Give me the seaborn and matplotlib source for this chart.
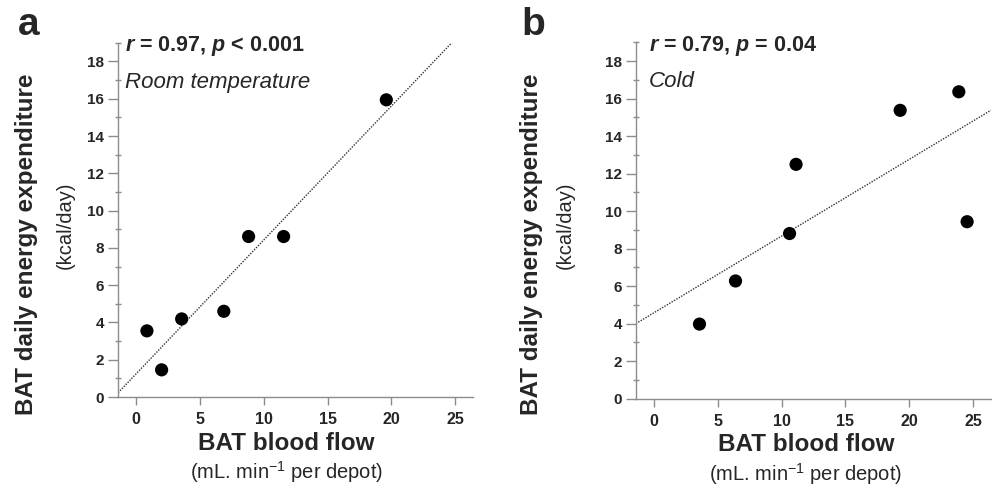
import matplotlib
matplotlib.use("Agg")
import numpy as np
import pandas as pd
import matplotlib.pyplot as plt
from matplotlib.ticker import MultipleLocator
import seaborn as sns

# values
room_flow = [0.86, 2.01, 3.58, 6.88, 8.82, 11.56, 19.6]
room_ee = [3.55, 1.46, 4.19, 4.6, 8.61, 8.61, 15.94]
cold_flow = [3.58, 6.40, 10.63, 11.14, 19.29, 23.88, 24.53]
cold_ee = [3.97, 6.27, 8.80, 12.49, 15.37, 16.36, 9.43]

panels = [
    ("a", "Room temperature", r"$\mathbfit{r}$ = 0.97, $\mathbfit{p}$ < 0.001", room_flow, room_ee),
    ("b", "Cold", r"$\mathbfit{r}$ = 0.79, $\mathbfit{p}$ = 0.04", cold_flow, cold_ee),
]

sns.set_style("white")
plt.rcParams['font.family'] = ['Liberation Sans', 'DejaVu Sans']
plt.rcParams['mathtext.fontset'] = 'custom'
plt.rcParams['mathtext.rm'] = 'Liberation Sans'
plt.rcParams['mathtext.bf'] = 'Liberation Sans:bold'
plt.rcParams['mathtext.it'] = 'Liberation Sans:italic'
plt.rcParams['mathtext.bfit'] = 'Liberation Sans:italic:bold'

fig = plt.figure(figsize=(9.92, 4.86), dpi=100)
rects = [[0.119, 0.183, 0.358, 0.729], [0.641, 0.180, 0.358, 0.733]]
grey = "#8c8c8c"

for i, (letter, cond, stat, flow, ee) in enumerate(panels):
    ax = fig.add_axes(rects[i])
    df = pd.DataFrame({"flow": flow, "ee": ee})
    ax.set_xlim(-1.4, 26.4)
    ax.set_ylim(0, 19)
    sns.regplot(data=df, x="flow", y="ee", ax=ax, ci=None, truncate=False,
                scatter_kws=dict(s=90, color="black", alpha=1, edgecolor="none", zorder=3),
                line_kws=dict(color="#333333", lw=1, linestyle=(0, (1, 1))))
    ax.set_xlim(-1.4, 26.4)
    ax.set_ylim(0, 19)
    ax.set_xlabel("")
    ax.set_ylabel("")

    for s in ["top", "right"]:
        ax.spines[s].set_visible(False)
    for s in ["left", "bottom"]:
        ax.spines[s].set_color(grey)
        ax.spines[s].set_linewidth(1)

    ax.set_xticks([0, 5, 10, 15, 20, 25])
    ax.set_yticks(np.arange(0, 19, 2))
    ax.yaxis.set_minor_locator(MultipleLocator(1))
    ax.tick_params(axis="y", which="major", direction="out", length=7, width=1,
                   color=grey, pad=3, labelsize=11, left=True)
    ax.tick_params(axis="y", which="minor", direction="inout", length=4, width=1,
                   color=grey, left=True)
    ax.tick_params(axis="x", which="major", direction="out", length=6, width=1,
                   color=grey, pad=5, labelsize=11.5, bottom=True)
    for lab in ax.get_xticklabels() + ax.get_yticklabels():
        lab.set_fontweight("bold")

    xo = 0.02 if i == 0 else 0.037
    ax.text(xo, 0.99, stat, transform=ax.transAxes, fontsize=15.5, fontweight="bold",
            ha="left", va="center")
    ax.text(xo, 0.889, cond, transform=ax.transAxes, fontsize=16, fontstyle="italic",
            ha="left", va="center")

    xc = 0.474 if i == 0 else 0.479
    ax.text(xc, -0.13, "BAT blood flow", transform=ax.transAxes, fontsize=17.5,
            fontweight="bold", ha="center", va="center")
    ax.text(xc, -0.212, r"(mL. min$^{-1}$ per depot)", transform=ax.transAxes,
            fontsize=14.5, ha="center", va="center")

    yl = -0.259 if i == 0 else -0.294
    ys = -0.149 if i == 0 else -0.2
    ax.text(yl, 0.432, "BAT daily energy expenditure", transform=ax.transAxes,
            fontsize=17.5, fontweight="bold", rotation=90, ha="center", va="center")
    ax.text(ys, 0.485, "(kcal/day)", transform=ax.transAxes, fontsize=14.5,
            rotation=90, ha="center", va="center")

    fig.text(0.029 if i == 0 else 0.538, 0.949, letter, fontsize=28,
             fontweight="bold", ha="center", va="center")

fig.savefig("out.png", dpi=100)
